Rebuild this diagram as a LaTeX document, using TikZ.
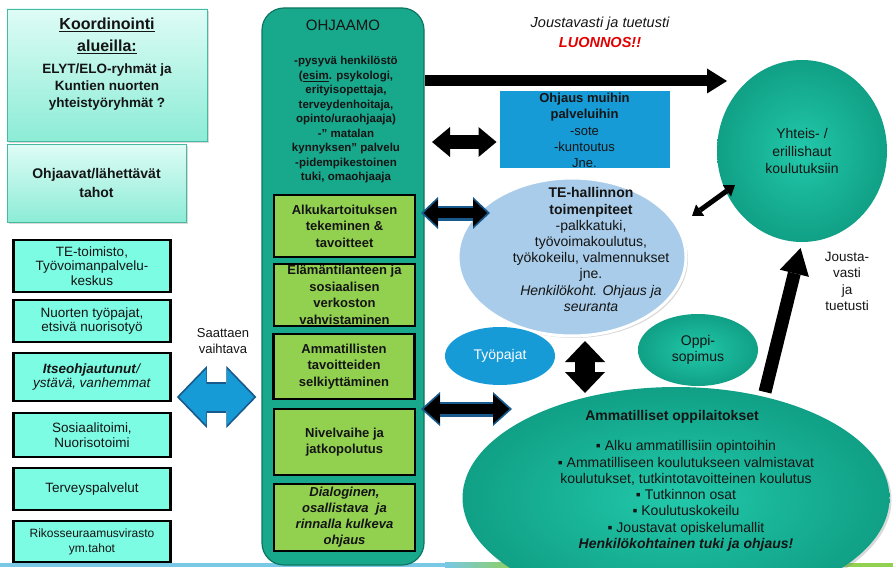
\documentclass[tikz,border=0pt]{standalone}
\usepackage{fontspec}
\setmainfont{Liberation Sans}
\usetikzlibrary{arrows.meta,shapes.geometric,shadows,calc}
\definecolor{cTeal}{RGB}{24,168,140}
\definecolor{cTealD}{RGB}{14,118,98}
\definecolor{cCircI}{RGB}{34,200,170}
\definecolor{cCircO}{RGB}{16,160,134}
\definecolor{cAqua}{RGB}{125,252,228}
\definecolor{cGreen}{RGB}{146,208,80}
\definecolor{cBlue}{RGB}{22,155,215}
\definecolor{cBlueD}{RGB}{25,90,140}
\definecolor{cLBlue}{RGB}{168,204,233}
\definecolor{cKoordT}{RGB}{222,252,246}
\definecolor{cKoordB}{RGB}{140,236,214}
\definecolor{cKoordE}{RGB}{70,185,160}
\definecolor{cRed}{RGB}{225,0,0}
\definecolor{cTxt}{RGB}{20,20,20}
\definecolor{cStripB}{RGB}{120,200,230}
\newcommand\fsz[2]{\fontsize{#1}{#2}\selectfont}
\begin{document}
\begin{tikzpicture}[x=1pt,y=-1pt,
  every node/.style={text=cTxt, inner sep=0pt},
  shad/.style={drop shadow={opacity=0.3,shadow xshift=2pt,shadow yshift=-2pt}},
  koordbox/.style={rectangle, draw=cKoordE, line width=0.8pt, top color=cKoordT, bottom color=cKoordB, shad},
  srcbox/.style={rectangle, draw=black, line width=2.6pt, fill=cAqua, minimum width=157pt, align=center, font=\fsz{13.5}{14.5}},
  greenbox/.style={rectangle, draw=black, line width=2.6pt, fill=cGreen, minimum width=141pt, align=center, font=\fsz{13}{16.5}\bfseries},
  tealshape/.style={ellipse, shade, inner color=cCircI, outer color=cCircO},
]
\useasboundingbox (0,0) rectangle (893,567);
\clip (0,0) rectangle (893,567);
% bottom strip
\fill[cStripB] (0,562.5) rectangle (445,567);
\shade[left color=cStripB, right color=cGreen] (445,562.5) rectangle (520,567);
\fill[cGreen] (520,562.5) rectangle (893,567);

% left column
\node[koordbox, minimum width=200pt, minimum height=132pt] (koord) at (107,75) {};
\node[align=center, font=\fsz{16}{22}\bfseries] (koordT) at (107,36) {\underline{Koordinointi}\\\underline{alueilla:}};
\node[align=center, font=\fsz{13.5}{17}\bfseries] (koordS) at (107,87) {ELYT/ELO-ryhmät ja\\Kuntien nuorten\\yhteistyöryhmät ?};
\node[koordbox, minimum width=179pt, minimum height=78pt, align=center, font=\fsz{14}{19}\bfseries] (ohjaavat) at (96.5,183) {Ohjaavat/lähettävät\\tahot};

\node[srcbox, minimum height=52pt] (te1) at (92,266) {TE-toimisto,\\Työvoimanpalvelu-\\keskus};
\node[srcbox, minimum height=42pt] (nuo) at (92,321) {Nuorten työpajat,\\etsivä nuorisotyö};
\node[srcbox, minimum height=48pt] (itse) at (92,377) {\textbf{\textit{Itseohjautunut}}\textit{/}\\\textit{ystävä, vanhemmat}};
\node[srcbox, minimum height=44pt] (sos) at (92,435) {Sosiaalitoimi,\\Nuorisotoimi};
\node[srcbox, minimum height=42pt] (ter) at (92,489) {Terveyspalvelut};
\node[srcbox, minimum height=41pt, font=\fsz{12}{15}] (rik) at (92,541.5) {Rikosseuraamusvirasto\\ym.tahot};

\node[align=center, font=\fsz{13}{16}] (saat) at (223,341) {Saattaen\\vaihtava};

% OHJAAMO
\node[rectangle, rounded corners=22pt, fill=cTeal, draw=cTealD, line width=1.2pt, minimum width=162pt, minimum height=557pt] (ohj) at (343,286.5) {};
\node[font=\fsz{15}{18}] (ohjT) at (343,25) {OHJAAMO};
\node[align=center, font=\fsz{11.5}{14.5}\bfseries] (ohjL) at (346,120) {-pysyvä henkilöstö\\(\underline{esim}. psykologi,\\erityisopettaja,\\terveydenhoitaja,\\opinto/uraohjaaja)\\-” matalan\\kynnyksen” palvelu\\-pidempikestoinen\\tuki, omaohjaaja};

\node[greenbox, minimum height=62pt] (g1) at (344.5,226) {Alkukartoituksen\\tekeminen \&\\tavoitteet};
\node[greenbox, minimum height=62pt] (g2) at (344.5,295) {Elämäntilanteen ja\\sosiaalisen\\verkoston\\vahvistaminen};
\node[greenbox, minimum height=65pt] (g3) at (344,366.5) {Ammatillisten\\tavoitteiden\\selkiyttäminen};
\node[greenbox, minimum height=66pt] (g4) at (344.5,442) {Nivelvaihe ja\\jatkopolutus};
\node[greenbox, minimum height=67pt, font=\fsz{13}{16}\bfseries\itshape] (g5) at (344.5,517.5) {Dialoginen,\\osallistava \ ja\\rinnalla kulkeva\\ohjaus};

% right side
\node[align=center, font=\fsz{14.5}{18}\itshape] (jt) at (600,24) {Joustavasti ja tuetusti};
\node[font=\fsz{14.5}{18}\bfseries\itshape, text=cRed] (luon) at (600,43) {LUONNOS!!};

\node[ellipse, fill=cLBlue, draw=white, line width=3pt, minimum width=228pt, minimum height=158pt, shad] (te) at (572,257) {};
\node[align=center, font=\fsz{14}{16.2}] (teT) at (591,249.5) {\textbf{TE-hallinnon}\\\textbf{toimenpiteet}\\-palkkatuki,\\työvoimakoulutus,\\työkokeilu, valmennukset\\jne.\\\textit{Henkilökoht. Ohjaus ja}\\\textit{seuranta}};

\node[rectangle, fill=cBlue, draw=white, line width=3pt, minimum width=173pt, minimum height=79pt, shad] (ohjaus) at (584.5,129.5) {};
\node[align=center, font=\fsz{13}{16.2}] (ohjausT) at (584.5,130.5) {\textbf{Ohjaus muihin}\\\textbf{palveluihin}\\-sote\\-kuntoutus\\Jne.};

\node[tealshape, minimum width=170pt, minimum height=182pt, align=center, font=\fsz{14}{17.5}] (circ) at (802,151) {Yhteis- /\\erillishaut\\koulutuksiin};

\node[ellipse, fill=cBlue, minimum width=110pt, minimum height=58pt, text=white, font=\fsz{14}{17}] (tyo) at (500,356) {Työpajat};
\node[tealshape, minimum width=120pt, minimum height=72pt, align=center, font=\fsz{14}{16.5}] (oppi) at (698,350) {Oppi-\\sopimus};

\node[tealshape, minimum width=427pt, minimum height=222pt, shad] (amm) at (676,498) {};
\node[font=\fsz{14}{17}\bfseries] (ammT) at (672,417) {Ammatilliset oppilaitokset};
\node[align=center, font=\fsz{14}{16.3}] (ammL) at (686,496) {▪ Alku ammatillisiin opintoihin\\▪ Ammatilliseen koulutukseen valmistavat\\koulutukset, tutkintotavoitteinen koulutus\\▪ Tutkinnon osat\\▪ Koulutuskokeilu\\▪ Joustavat opiskelumallit\\\textbf{\textit{Henkilökohtainen tuki ja ohjaus!}}};

\node[align=center, font=\fsz{13.5}{16.3}] (jvt) at (847,281.5) {Jousta-\\vasti\\ja\\tuetusti};

% connectors
\coordinate (topEnd) at (727,81);
\draw[black, line width=11pt, -{Triangle[length=20pt,width=25pt,line width=0pt]}] (ohj.east |- topEnd) -- (topEnd);

\coordinate (ohjA) at (432,142);
\draw[black, line width=14pt, {Triangle[length=18pt,width=30pt,line width=0pt]}-{Triangle[length=18pt,width=30pt,line width=0pt]}] (ohjA) -- (ohjaus.west |- ohjA);

\coordinate (teA) at (421,213);
\coordinate (teB) at (490,213);
\draw[cBlueD, line width=15pt, {Triangle[length=17pt,width=32pt,line width=0pt]}-{Triangle[length=17pt,width=32pt,line width=0pt]}] (teA) -- (teB);
\draw[black, line width=10pt, shorten <=2.8pt, shorten >=2.8pt, {Triangle[length=14pt,width=27pt,line width=0pt]}-{Triangle[length=14pt,width=27pt,line width=0pt]}] (teA) -- (teB);

\coordinate (amA) at (421,409);
\coordinate (amB) at (512,409);
\draw[cBlueD, line width=15pt, {Triangle[length=19pt,width=34pt,line width=0pt]}-{Triangle[length=19pt,width=34pt,line width=0pt]}] (amA) -- (amB);
\draw[black, line width=10pt, shorten <=2.8pt, shorten >=2.8pt, {Triangle[length=16pt,width=29pt,line width=0pt]}-{Triangle[length=16pt,width=29pt,line width=0pt]}] (amA) -- (amB);

\coordinate (blA) at ($(itse.east |- 0,397)+(5,0)$);
\coordinate (blB) at ($(ohj.west |- 0,397)+(-5,0)$);
\draw[cBlueD, line width=31pt, {Triangle[length=30pt,width=62pt,line width=0pt]}-{Triangle[length=30pt,width=62pt,line width=0pt]}] (blA) -- (blB);
\draw[cBlue, line width=27pt, shorten <=2.5pt, shorten >=2.5pt, {Triangle[length=27pt,width=56pt,line width=0pt]}-{Triangle[length=27pt,width=56pt,line width=0pt]}] (blA) -- (blB);

\coordinate (vT) at (585,341);
\coordinate (vB) at (585,393);
\draw[black, line width=20pt, {Triangle[length=21pt,width=40pt,line width=0pt]}-{Triangle[length=21pt,width=40pt,line width=0pt]}] (vT) -- (vB);

\coordinate (upA) at (765,392);
\draw[black, line width=13pt, -{Triangle[length=26pt,width=30pt,line width=0pt]}, shorten >=6pt] (upA) -- (circ.south);

\coordinate (smA) at (692,216);
\coordinate (smB) at (735,185);
\draw[black, line width=5pt, {Triangle[length=10pt,width=14pt,line width=0pt]}-{Triangle[length=10pt,width=14pt,line width=0pt]}] (smA) -- (smB);
\end{tikzpicture}
\end{document}
